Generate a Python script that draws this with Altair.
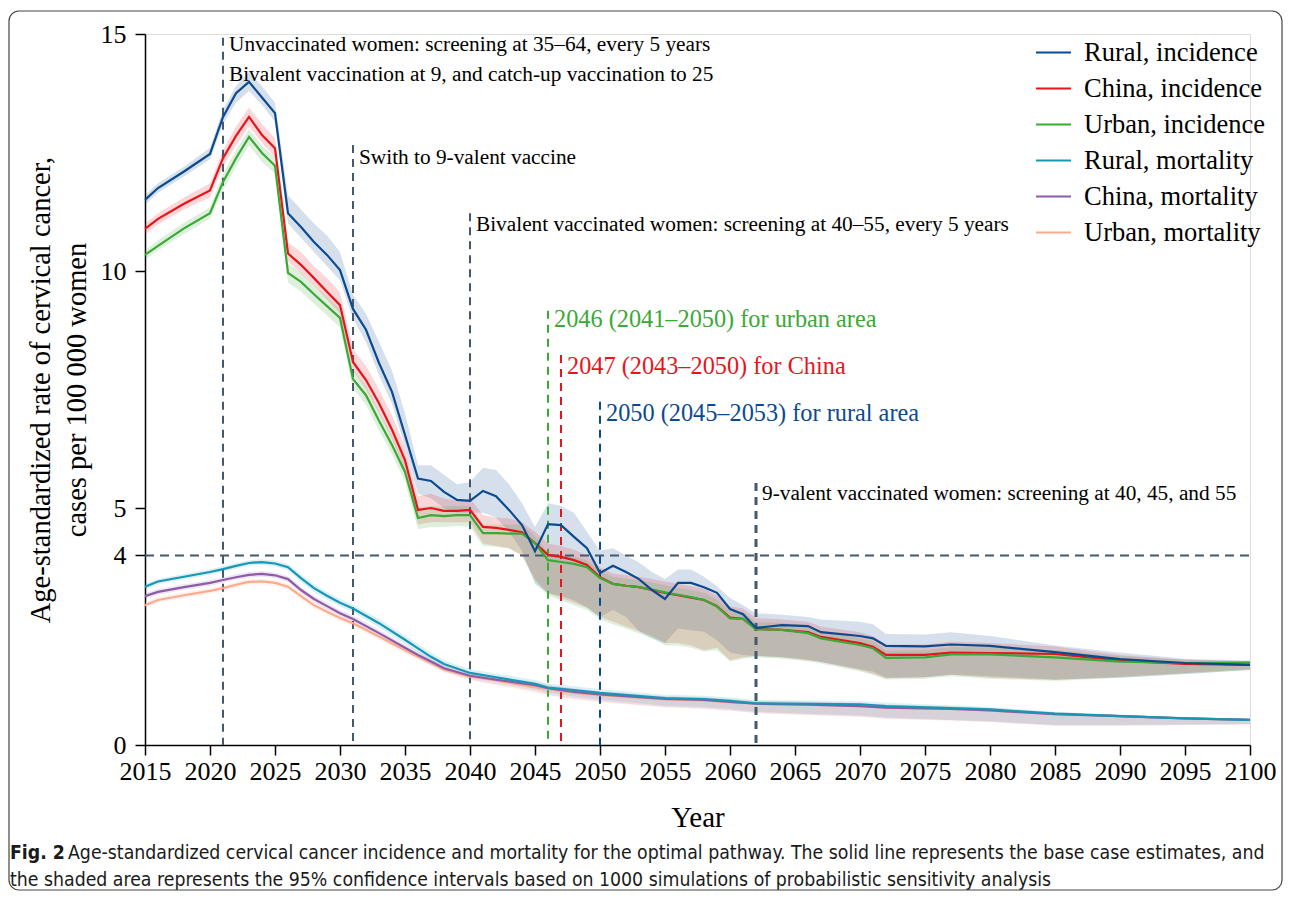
import altair as alt
import pandas as pd

# ---------------- data ----------------
YEARS = [2015, 2016, 2018, 2020, 2021, 2022, 2023, 2024, 2025, 2026, 2027, 2028, 2029, 2030,
         2031, 2032, 2033, 2034, 2035, 2036, 2037, 2038, 2039, 2040, 2041, 2042, 2043, 2044,
         2045, 2046, 2047, 2048, 2049, 2050, 2051, 2052, 2053, 2054, 2055, 2056, 2057, 2058,
         2059, 2060, 2061, 2062, 2064, 2066, 2067, 2070, 2071, 2072, 2075, 2077, 2080, 2085,
         2090, 2095, 2100]

RURAL_INC = [11.50, 11.75, 12.10, 12.47, 13.25, 13.75, 13.99, 13.66, 13.33, 11.22, 10.93, 10.61, 10.34, 10.02,
             9.20, 8.76, 8.06, 7.45, 6.54, 5.62, 5.57, 5.34, 5.17, 5.15, 5.36, 5.25, 4.96, 4.64,
             4.09, 4.66, 4.64, 4.39, 4.15, 3.63, 3.78, 3.65, 3.50, 3.27, 3.08, 3.42, 3.42, 3.33,
             3.21, 2.87, 2.76, 2.47, 2.53, 2.51, 2.38, 2.30, 2.25, 2.09, 2.08, 2.12, 2.09, 1.96,
             1.81, 1.73, 1.69]
RURAL_INC_LO = [11.40, 11.65, 12.00, 12.35, 13.10, 13.55, 13.80, 13.50, 13.15, 11.00, 10.70, 10.40, 10.10, 9.80,
                9.00, 8.50, 7.80, 7.20, 6.30, 5.30, 5.20, 5.00, 4.90, 4.90, 4.90, 4.80, 4.50, 4.10,
                3.40, 3.20, 3.15, 3.05, 2.90, 2.70, 2.85, 2.70, 2.40, 2.25, 2.15, 2.46, 2.42, 2.39,
                2.21, 1.95, 1.90, 1.88, 1.85, 1.80, 1.75, 1.60, 1.55, 1.42, 1.43, 1.48, 1.45, 1.38,
                1.42, 1.50, 1.58]
RURAL_INC_HI = [11.60, 11.85, 12.20, 12.60, 13.40, 13.90, 14.20, 13.90, 13.55, 11.60, 11.30, 11.00, 10.75, 10.40,
                9.50, 9.10, 8.50, 7.90, 7.00, 5.90, 5.90, 5.70, 5.50, 5.55, 5.85, 5.80, 5.50, 5.10,
                4.60, 5.10, 5.05, 4.90, 4.50, 4.10, 4.15, 4.00, 3.85, 3.65, 3.50, 3.70, 3.70, 3.55,
                3.35, 3.10, 2.95, 2.78, 2.75, 2.70, 2.65, 2.60, 2.55, 2.34, 2.33, 2.38, 2.30, 2.10,
                1.95, 1.82, 1.78]

CHINA_INC = [10.89, 11.10, 11.42, 11.70, 12.38, 12.85, 13.25, 12.87, 12.59, 10.37, 10.13, 9.85, 9.56, 9.28,
             8.08, 7.70, 7.21, 6.65, 6.01, 4.96, 5.00, 4.94, 4.94, 4.96, 4.60, 4.58, 4.54, 4.49,
             4.26, 4.01, 3.97, 3.90, 3.80, 3.54, 3.40, 3.36, 3.33, 3.27, 3.21, 3.16, 3.11, 3.06,
             2.93, 2.69, 2.66, 2.45, 2.43, 2.38, 2.28, 2.15, 2.07, 1.90, 1.90, 1.95, 1.94, 1.92,
             1.78, 1.71, 1.69]
CHINA_INC_LO = [10.77, 10.98, 11.30, 11.55, 12.20, 12.65, 13.05, 12.70, 12.40, 10.20, 9.95, 9.70, 9.40, 9.10,
                7.90, 7.50, 7.00, 6.45, 5.80, 4.65, 4.70, 4.70, 4.70, 4.70, 4.25, 4.20, 4.15, 4.00,
                3.50, 3.20, 3.10, 3.00, 2.90, 2.70, 2.60, 2.50, 2.40, 2.30, 2.15, 2.15, 2.10, 2.00,
                2.05, 1.79, 1.85, 1.88, 1.85, 1.79, 1.75, 1.58, 1.50, 1.41, 1.43, 1.48, 1.42, 1.37,
                1.44, 1.52, 1.60]
CHINA_INC_HI = [11.00, 11.22, 11.55, 11.85, 12.55, 13.05, 13.45, 13.10, 12.80, 10.60, 10.40, 10.10, 9.85, 9.55,
                8.35, 8.00, 7.50, 6.95, 6.30, 5.25, 5.30, 5.20, 5.15, 5.20, 4.85, 4.80, 4.78, 4.70,
                4.50, 4.25, 4.20, 4.12, 4.00, 3.75, 3.62, 3.58, 3.55, 3.50, 3.45, 3.40, 3.35, 3.30,
                3.15, 2.92, 2.88, 2.68, 2.65, 2.60, 2.50, 2.38, 2.30, 2.12, 2.12, 2.18, 2.15, 2.08,
                1.90, 1.80, 1.76]

URBAN_INC = [10.34, 10.53, 10.90, 11.22, 11.88, 12.38, 12.83, 12.49, 12.22, 9.96, 9.77, 9.51, 9.26, 9.01,
             7.72, 7.38, 6.84, 6.33, 5.76, 4.79, 4.85, 4.83, 4.85, 4.85, 4.47, 4.47, 4.46, 4.46,
             4.26, 3.90, 3.86, 3.82, 3.75, 3.52, 3.40, 3.36, 3.33, 3.28, 3.22, 3.17, 3.12, 3.06,
             2.92, 2.67, 2.66, 2.44, 2.43, 2.36, 2.25, 2.11, 2.04, 1.84, 1.85, 1.91, 1.91, 1.85,
             1.76, 1.73, 1.74]
URBAN_INC_LO = [10.24, 10.43, 10.78, 11.10, 11.70, 12.20, 12.65, 12.30, 12.05, 9.76, 9.57, 9.31, 9.06, 8.81,
                7.52, 7.18, 6.64, 6.13, 5.56, 4.55, 4.60, 4.60, 4.62, 4.60, 4.20, 4.18, 4.15, 4.00,
                3.45, 3.15, 3.05, 2.95, 2.85, 2.65, 2.55, 2.45, 2.35, 2.25, 2.10, 2.10, 2.05, 1.97,
                2.00, 1.76, 1.82, 1.85, 1.82, 1.76, 1.72, 1.55, 1.48, 1.38, 1.40, 1.45, 1.40, 1.35,
                1.42, 1.50, 1.58]
URBAN_INC_HI = [10.44, 10.65, 11.02, 11.35, 12.05, 12.55, 13.00, 12.65, 12.40, 10.16, 9.97, 9.71, 9.46, 9.21,
                7.92, 7.58, 7.04, 6.53, 5.96, 5.00, 5.05, 5.03, 5.05, 5.05, 4.65, 4.65, 4.65, 4.65,
                4.41, 4.05, 4.01, 3.97, 3.90, 3.67, 3.55, 3.51, 3.48, 3.43, 3.37, 3.32, 3.27, 3.21,
                3.07, 2.82, 2.81, 2.59, 2.58, 2.51, 2.40, 2.26, 2.19, 1.99, 2.00, 2.06, 2.06, 2.00,
                1.88, 1.80, 1.78]

YEARS_M = [2015, 2016, 2018, 2020, 2021, 2022, 2023, 2024, 2025, 2026, 2027, 2028, 2029, 2030, 2031,
           2033, 2035, 2036, 2037, 2038, 2040, 2042, 2045, 2046, 2048, 2050, 2055, 2058, 2060, 2062,
           2066, 2070, 2072, 2077, 2080, 2085, 2090, 2095, 2100]

RURAL_MORT = [3.34, 3.45, 3.55, 3.65, 3.71, 3.78, 3.84, 3.86, 3.83, 3.75, 3.52, 3.31, 3.15, 3.00, 2.88,
              2.57, 2.22, 2.04, 1.86, 1.71, 1.52, 1.43, 1.29, 1.21, 1.16, 1.10, 0.99, 0.97, 0.93, 0.88,
              0.87, 0.86, 0.82, 0.78, 0.75, 0.66, 0.61, 0.56, 0.53]
RURAL_MORT_LO = [3.28, 3.39, 3.49, 3.59, 3.65, 3.72, 3.78, 3.80, 3.77, 3.68, 3.44, 3.23, 3.07, 2.92, 2.80,
                 2.48, 2.13, 1.95, 1.77, 1.63, 1.44, 1.34, 1.18, 1.10, 1.03, 0.96, 0.83, 0.80, 0.76, 0.70,
                 0.66, 0.62, 0.58, 0.53, 0.50, 0.42, 0.42, 0.43, 0.44]
RURAL_MORT_HI = [3.40, 3.51, 3.61, 3.71, 3.77, 3.84, 3.90, 3.92, 3.89, 3.82, 3.60, 3.39, 3.23, 3.08, 2.96,
                 2.66, 2.31, 2.13, 1.95, 1.79, 1.60, 1.51, 1.37, 1.29, 1.24, 1.18, 1.06, 1.04, 1.00, 0.95,
                 0.94, 0.93, 0.89, 0.84, 0.80, 0.70, 0.64, 0.58, 0.55]

CHINA_MORT = [3.14, 3.23, 3.33, 3.42, 3.48, 3.54, 3.59, 3.61, 3.58, 3.50, 3.27, 3.08, 2.93, 2.78, 2.66,
              2.36, 2.05, 1.90, 1.76, 1.62, 1.46, 1.38, 1.26, 1.20, 1.12, 1.07, 0.97, 0.95, 0.91, 0.87,
              0.85, 0.82, 0.79, 0.76, 0.73, 0.65, 0.61, 0.56, 0.53]
CHINA_MORT_LO = [3.08, 3.17, 3.27, 3.36, 3.42, 3.48, 3.53, 3.55, 3.52, 3.44, 3.20, 3.01, 2.86, 2.71, 2.59,
                 2.29, 1.98, 1.83, 1.69, 1.55, 1.38, 1.28, 1.14, 1.06, 0.98, 0.92, 0.80, 0.77, 0.73, 0.68,
                 0.64, 0.60, 0.56, 0.52, 0.49, 0.41, 0.41, 0.42, 0.44]
CHINA_MORT_HI = [3.20, 3.29, 3.39, 3.48, 3.54, 3.60, 3.65, 3.67, 3.64, 3.56, 3.34, 3.15, 3.00, 2.85, 2.73,
                 2.43, 2.12, 1.97, 1.83, 1.69, 1.53, 1.45, 1.33, 1.27, 1.19, 1.13, 1.03, 1.01, 0.97, 0.93,
                 0.91, 0.88, 0.85, 0.81, 0.78, 0.69, 0.64, 0.58, 0.55]

URBAN_MORT = [2.95, 3.06, 3.16, 3.25, 3.31, 3.38, 3.44, 3.45, 3.42, 3.34, 3.14, 2.95, 2.81, 2.68, 2.57,
              2.29, 2.00, 1.86, 1.73, 1.59, 1.44, 1.36, 1.22, 1.18, 1.10, 1.05, 0.96, 0.94, 0.90, 0.87,
              0.85, 0.82, 0.79, 0.76, 0.73, 0.65, 0.61, 0.56, 0.53]
URBAN_MORT_LO = [2.89, 3.00, 3.10, 3.19, 3.25, 3.32, 3.38, 3.39, 3.36, 3.28, 3.07, 2.88, 2.74, 2.61, 2.50,
                 2.22, 1.93, 1.79, 1.66, 1.52, 1.36, 1.26, 1.10, 1.04, 0.96, 0.90, 0.79, 0.76, 0.72, 0.67,
                 0.63, 0.59, 0.55, 0.51, 0.48, 0.40, 0.40, 0.42, 0.44]
URBAN_MORT_HI = [3.01, 3.12, 3.22, 3.31, 3.37, 3.44, 3.50, 3.51, 3.48, 3.40, 3.21, 3.02, 2.88, 2.75, 2.64,
                 2.36, 2.07, 1.93, 1.80, 1.66, 1.51, 1.43, 1.29, 1.25, 1.17, 1.11, 1.02, 1.00, 0.96, 0.93,
                 0.91, 0.88, 0.85, 0.81, 0.78, 0.69, 0.64, 0.58, 0.55]

SERIES = ["Rural, incidence", "China, incidence", "Urban, incidence",
          "Rural, mortality", "China, mortality", "Urban, mortality"]
COLORS = ["#0b4a8f", "#e8141b", "#3aa935", "#1597b5", "#8f5ba8", "#fcaa8c"]

# milestone (dashed vertical) lines: year, top value
MARK_YEARS = [2021, 2031, 2040, 2046, 2047, 2050, 2062]
MARK_TOPS = [14.92, 12.66, 11.22, 9.16, 8.23, 7.24, 5.53]
MARK_COLORS = ["#44596b", "#44596b", "#44596b", "#3aa935", "#e8141b", "#0b4a8f", "#44596b"]

ANNOT_TEXT = ["Unvaccinated women: screening at 35\u201364, every 5 years",
              "Bivalent vaccination at 9, and catch-up vaccination to 25",
              "Swith to 9-valent vaccine",
              "Bivalent vaccinated women: screening at 40\u201355, every 5 years",
              "2046 (2041\u20132050) for urban area",
              "2047 (2043\u20132050) for China",
              "2050 (2045\u20132053) for rural area",
              "9-valent vaccinated women: screening at 40, 45, and 55"]
ANNOT_YEAR = [2021, 2021, 2031, 2040, 2046, 2047, 2050, 2062]
ANNOT_VAL = [14.77, 14.13, 12.38, 10.97, 8.97, 7.97, 6.98, 5.30]
ANNOT_COLOR = ["black", "black", "black", "black", "#3aa935", "#e8141b", "#0b4a8f", "black"]
ANNOT_SIZE = [21.3, 21.3, 21.3, 21.3, 24.3, 24.3, 24.3, 21.3]

THRESHOLD = 4

# ---------------- build tables ----------------
groups = [
    (SERIES[0], YEARS, RURAL_INC, RURAL_INC_LO, RURAL_INC_HI),
    (SERIES[1], YEARS, CHINA_INC, CHINA_INC_LO, CHINA_INC_HI),
    (SERIES[2], YEARS, URBAN_INC, URBAN_INC_LO, URBAN_INC_HI),
    (SERIES[3], YEARS_M, RURAL_MORT, RURAL_MORT_LO, RURAL_MORT_HI),
    (SERIES[4], YEARS_M, CHINA_MORT, CHINA_MORT_LO, CHINA_MORT_HI),
    (SERIES[5], YEARS_M, URBAN_MORT, URBAN_MORT_LO, URBAN_MORT_HI),
]
rows = []
for name, yrs, mid, lo, hi in groups:
    for y, m, l, h in zip(yrs, mid, lo, hi):
        rows.append({"year": y, "series": name, "value": m, "lo": l, "hi": h})
df = pd.DataFrame(rows)

SERIF = "Liberation Serif"
xscale = alt.Scale(domain=[2015, 2100], nice=False, zero=False)
yscale = alt.Scale(domain=[0, 15], nice=False)

xaxis = alt.Axis(values=list(range(2015, 2101, 5)), format="d", title="Year",
                 labelFont=SERIF, labelFontSize=26, labelColor="black", labelPadding=3,
                 titleFont=SERIF, titleFontSize=29, titleFontWeight="normal", titleColor="black",
                 titlePadding=19, tickSize=10, tickColor="black", tickWidth=1.5,
                 domainColor="black", domainWidth=1.5, grid=False, labelFlush=False,
                 labelOverlap=False)
yaxis = alt.Axis(values=[0, 4, 5, 10, 15], title=["Age-standardized rate of cervical cancer,",
                                                   "cases per 100 000 women"],
                 labelFont=SERIF, labelFontSize=26, labelColor="black", labelPadding=9,
                 titleFont=SERIF, titleFontSize=28.5, titleFontWeight="normal", titleColor="black",
                 titlePadding=9, titleLineHeight=36, tickSize=10, tickColor="black", tickWidth=1.5,
                 domainColor="black", domainWidth=1.5, grid=False, labelOverlap=False)


def X(field):
    return alt.X(field, type="quantitative", scale=xscale, axis=xaxis)


def Yenc(field):
    return alt.Y(field, type="quantitative", scale=yscale, axis=yaxis)


base = alt.Chart(df)
layers = []
for i in range(6):
    layers.append(
        base.transform_filter(alt.datum.series == SERIES[i]).mark_area(
            color=COLORS[i], opacity=0.17 if i < 3 else 0.15).encode(
            x=X("year"), y=Yenc("lo"), y2="hi:Q")
    )

# milestone lines
mdf = pd.DataFrame({"year": MARK_YEARS, "top": MARK_TOPS, "col": MARK_COLORS,
                    "bottom": [0] * len(MARK_YEARS),
                    "w": [2, 2, 2, 2, 2, 2, 3]})
layers.append(
    alt.Chart(mdf).mark_rule(strokeDash=[8, 6]).encode(
        x=X("year"), y=Yenc("top"), y2="bottom:Q",
        color=alt.Color("col:N", scale=None),
        strokeWidth=alt.StrokeWidth("w:Q", scale=None),
    )
)
hdf = pd.DataFrame({"year": [2015], "x1": [2100], "value": [THRESHOLD]})
layers.append(
    alt.Chart(hdf).mark_rule(strokeDash=[9, 6], strokeWidth=2, color="#44596b").encode(
        x=X("year"), x2="x1:Q", y=Yenc("value"))
)

# lines (drawn: mortality, China, Urban, Rural on top)
line_df = pd.concat([df[df.series == SERIES[i]] for i in [5, 4, 3, 1, 2, 0]])
layers.append(
    alt.Chart(line_df).mark_line(strokeWidth=2.2).encode(
        x=X("year"), y=Yenc("value"),
        color=alt.Color("series:N", scale=alt.Scale(domain=SERIES, range=COLORS),
                        legend=alt.Legend(title=None, orient="none", legendX=890, legendY=0,
                                          symbolType="stroke", symbolStrokeWidth=2,
                                          symbolSize=1225, labelFont=SERIF, labelFontSize=26.5,
                                          labelColor="black", labelOffset=12, rowPadding=4,
                                          padding=0, labelLimit=400)),
        detail="series:N",
    )
)

# annotation texts
adf = pd.DataFrame({"year": ANNOT_YEAR, "value": ANNOT_VAL, "t": ANNOT_TEXT,
                    "c": ANNOT_COLOR, "s": ANNOT_SIZE})
layers.append(
    alt.Chart(adf).mark_text(align="left", baseline="middle", dx=6, font=SERIF).encode(
        x=X("year"), y=Yenc("value"),
        text="t:N",
        color=alt.Color("c:N", scale=None),
        size=alt.Size("s:Q", scale=None),
    )
)

# caption and frame
one = pd.DataFrame({"k": [0]})
CAP_FONT = "Liberation Sans Narrow, DejaVu Sans Condensed, Roboto Condensed, sans-serif"
layers.append(
    alt.Chart(one).mark_text(text="Fig. 2", align="left", baseline="middle", font=CAP_FONT,
                             fontWeight="bold", fontSize=19.3, color="#1a1a1a").encode(
        x=alt.value(-135), y=alt.value(819))
)
layers.append(
    alt.Chart(one).mark_text(
        text="Age-standardized cervical cancer incidence and mortality for the optimal pathway. "
             "The solid line represents the base case estimates, and",
        align="left", baseline="middle", font=CAP_FONT, fontSize=19.3, color="#1a1a1a").encode(
        x=alt.value(-77), y=alt.value(819))
)
layers.append(
    alt.Chart(one).mark_text(
        text="the shaded area represents the 95% confidence intervals based on 1000 simulations "
             "of probabilistic sensitivity analysis",
        align="left", baseline="middle", font=CAP_FONT, fontSize=19.3, color="#1a1a1a").encode(
        x=alt.value(-135), y=alt.value(846))
)
layers.append(
    alt.Chart(one).mark_rect(fillOpacity=0, stroke="#444444", strokeWidth=1.2,
                             cornerRadius=10).encode(
        x=alt.value(-136), x2=alt.value(1137), y=alt.value(-23), y2=alt.value(856))
)

chart = alt.layer(*layers).properties(
    width=1105, height=711,
    padding={"left": 137, "top": 26, "right": 34, "bottom": 147},
    autosize=alt.AutoSizeParams(type="none"),
).configure_view(strokeWidth=0).configure(background="white")

chart.save("out.html", embed_options={"renderer": "svg", "actions": False})
